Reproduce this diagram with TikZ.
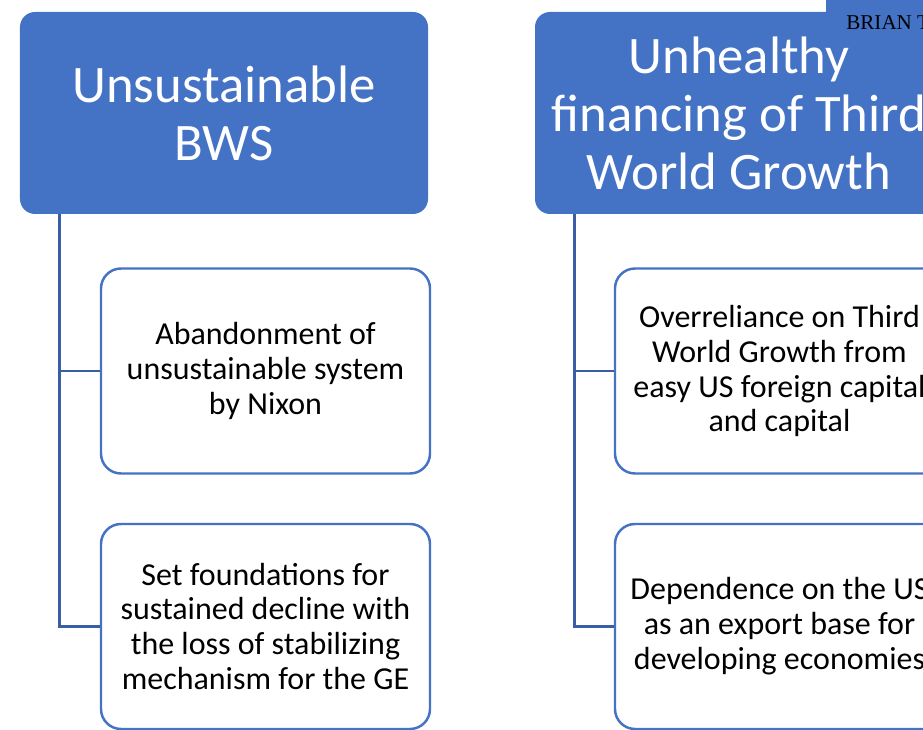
\documentclass[tikz,border=0pt]{standalone}
\usepackage{fontspec}
\setmainfont{Carlito}
\newfontfamily\brianfont{Liberation Serif}
\usetikzlibrary{calc}
\definecolor{smblue}{HTML}{4472C4}
\definecolor{smline}{RGB}{58,94,166}

\begin{document}
\begin{tikzpicture}[
    hdr/.style={fill=smblue,rounded corners=0.3cm,text=white,align=center,
      minimum width=8.16cm,minimum height=4.04cm,inner sep=0pt,
      font=\fontsize{30}{33}\selectfont},
    sub/.style={draw=smblue,line width=1.4pt,fill=white,rounded corners=0.4cm,
      align=center,minimum width=6.58cm,minimum height=4.1cm,inner sep=0pt,
      font=\fontsize{18.2}{19.9}\selectfont},
    link/.style={draw=smline,line width=1.4pt}]
    \clip (0,0) rectangle (18.46,14.6);
    \fill[smblue] (16.52,14.0) rectangle (18.46,14.6);
    \draw
    (4.48,12.34) node[hdr](bws){Unsustainable\\BWS}
    (14.78,12.34) node[hdr](third){Unhealthy\\financing of Third\\World Growth}
    (5.31,7.18) node[sub](nixon){Abandonment of\\unsustainable system\\by Nixon}
    (5.31,2.07) node[sub](decline){Set foundations for\\sustained decline with\\the loss of stabilizing\\mechanism for the GE}
    (15.59,7.18) node[sub](overrel){Overreliance on Third\\World Growth from\\easy US foreign capital\\and capital}
    (15.59,2.07) node[sub](export){Dependence on the US\\as an export base for\\developing economies};
    \path (16.92,14.0) node[anchor=base west,inner sep=0pt,font=\brianfont\fontsize{12}{14}\selectfont](brian){BRIAN T};
    % tree links
    \draw[link] ([xshift=0.8cm]bws.south west) |- (nixon.west);
    \draw[link] ([xshift=0.8cm]bws.south west) |- (decline.west);
    \draw[link] ([xshift=0.8cm]third.south west) |- (overrel.west);
    \draw[link] ([xshift=0.8cm]third.south west) |- (export.west);
  \end{tikzpicture}
\end{document}
